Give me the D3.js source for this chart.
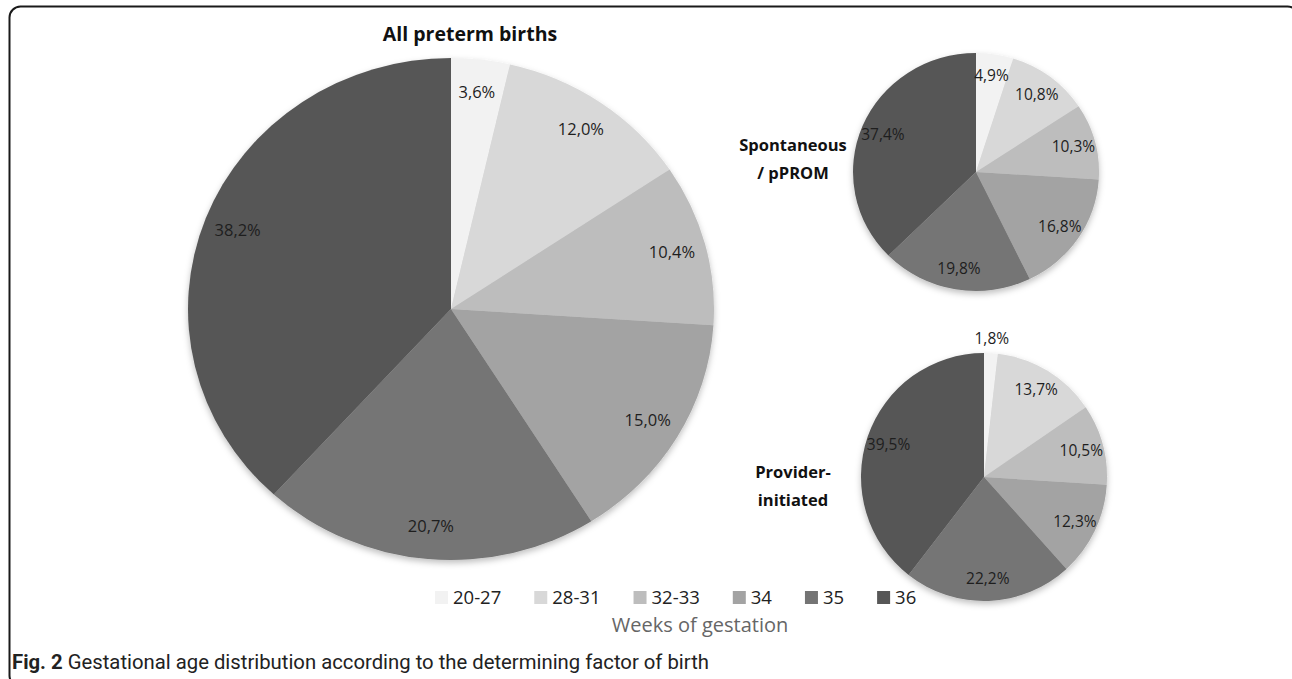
<!DOCTYPE html>
<html>
<head>
<meta charset="utf-8">
<script src="https://cdn.jsdelivr.net/npm/d3@7"></script>
<style>
body{margin:0;background:#fff}
</style>
</head>
<body>
<svg id="svg1" width="1292" height="679"></svg>
<script>
var svg = d3.select("#svg1")

// weeks of gestation
var categories = ["20-27","28-31","32-33","34","35","36"]
// share of births (%)
var allBirths = [3.6,12.0,10.4,15.0,20.7,38.2]
var spontaneous = [4.9,10.8,10.3,16.8,19.8,37.4]
var providerInit = [1.8,13.7,10.5,12.3,22.2,39.5]

var greys = ["#f2f2f2","#d8d8d8","#bdbdbd","#a3a3a3","#747474","#575757"]
var color = d3.scaleOrdinal().domain(categories).range(greys)

var fmt = function(v){ return v.toFixed(1).replace(".",",")+"%" }

// soft shadow under the pies
var defs = svg.append("defs")
var f = defs.append("filter").attr("id","shd").attr("x","-10%").attr("y","-10%").attr("width","120%").attr("height","125%")
f.append("feDropShadow").attr("dx",0).attr("dy",3).attr("stdDeviation",3).attr("flood-color","#000").attr("flood-opacity",0.25)

// frame
svg.append("rect")
  .attr("x",9.5).attr("y",6.5)
  .attr("width",1289).attr("height",680)
  .attr("rx",11).attr("ry",11)
  .attr("fill","none").attr("stroke","#1a1a1a").attr("stroke-width",2)

// the original figure is slightly squashed vertically, so pies are drawn with rx/ry
function drawPie(values, cx, cy, rx, ry, fontSize, labFrac){
  var data = values.map(function(v,i){ return {cat:categories[i], v:v} })
  var pie = d3.pie().sort(null).value(function(d){ return d.v })
  var arcs = pie(data)
  var arc = d3.arc().innerRadius(0).outerRadius(rx)
  var lab = d3.arc().innerRadius(rx*labFrac).outerRadius(rx*labFrac)
  var out = d3.arc().innerRadius(rx*1.12).outerRadius(rx*1.12)
  var sy = ry/rx

  var g = svg.append("g").attr("transform","translate("+cx+","+cy+")")
  g.append("g").attr("filter","url(#shd)")
    .append("g").attr("transform","scale(1,"+sy+")")
    .selectAll("path").data(arcs).enter().append("path")
    .attr("d",arc)
    .attr("fill",function(d){ return color(d.data.cat) })

  g.selectAll("text").data(arcs).enter().append("text")
    .attr("transform",function(d){
      var c = d.data.v < 3 ? out.centroid(d) : lab.centroid(d)
      return "translate("+c[0]+","+(c[1]*sy)+")"
    })
    .attr("text-anchor","middle")
    .attr("dy","0.35em")
    .attr("font-family","'Open Sans', sans-serif")
    .attr("font-size",fontSize)
    .attr("fill","#1e1e1e")
    .text(function(d){ return fmt(d.data.v) })
}

drawPie(allBirths, 451, 309, 263, 251, 16.5, 0.87)
drawPie(spontaneous, 976, 172, 123, 119, 15.5, 0.82)
drawPie(providerInit, 984, 477, 123, 124, 15.5, 0.82)

// titles
var titleFont = "'Open Sans', sans-serif"
svg.append("text").attr("x",470).attr("y",41).attr("text-anchor","middle")
  .attr("font-family",titleFont).attr("font-weight","bold").attr("font-size",19.5).attr("fill","#111")
  .text("All preterm births")

var sideTitles = [["Spontaneous","/ pPROM"],["Provider-","initiated"]]
var sideY = [151,478]
sideTitles.forEach(function(lines,k){
  lines.forEach(function(t,j){
    svg.append("text").attr("x",793).attr("y",sideY[k]+j*28).attr("text-anchor","middle")
      .attr("font-family",titleFont).attr("font-weight","bold").attr("font-size",16.5).attr("fill","#111")
      .text(t)
  })
})

// legend
var leg = svg.append("g")
var lx = 435
categories.forEach(function(c){
  leg.append("rect").attr("x",lx).attr("y",591).attr("width",13).attr("height",13).attr("fill",color(c))
  var t = leg.append("text").attr("x",lx+18).attr("y",604)
    .attr("font-family","'Open Sans', sans-serif").attr("font-size",18.5).attr("fill","#222")
    .text(c)
  lx += 18 + t.node().getComputedTextLength() + 33
})

svg.append("text").attr("x",700).attr("y",632).attr("text-anchor","middle")
  .attr("font-family","'Open Sans', sans-serif").attr("font-size",20).attr("fill","#666")
  .text("Weeks of gestation")

// caption
var cap = svg.append("text").attr("x",12).attr("y",669)
  .attr("font-family","Roboto, sans-serif").attr("font-size",20.3).attr("fill","#222")
cap.append("tspan").attr("font-weight","bold").text("Fig. 2")
cap.append("tspan").text(" Gestational age distribution according to the determining factor of birth")
</script>
</body>
</html>
